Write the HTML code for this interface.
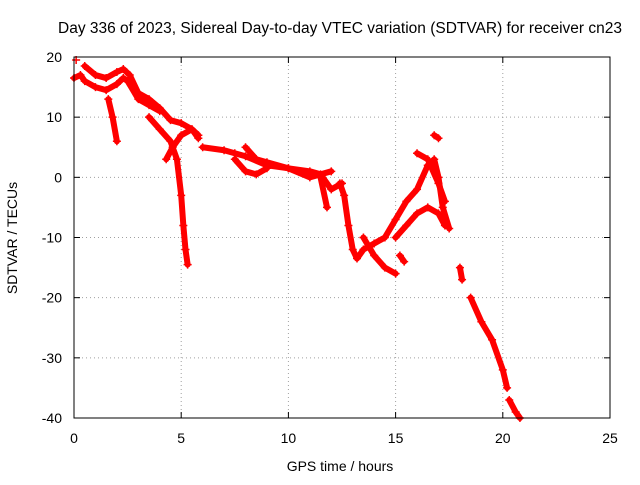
<!DOCTYPE html>
<html><head><meta charset="utf-8"><style>
body{margin:0;background:#fff}
svg text{font-family:"Liberation Sans",sans-serif;font-size:14px;fill:#000}
</style></head><body>
<svg id="chart" width="640" height="480" viewBox="0 0 640 480">
<rect width="640" height="480" fill="#fff"/>
<text x="340" y="33" text-anchor="middle" style="font-size:15.5px">Day 336 of 2023, Sidereal Day-to-day VTEC variation (SDTVAR) for receiver cn23</text>
<text x="340" y="471" text-anchor="middle">GPS time / hours</text>
<text transform="translate(17,238) rotate(-90)" text-anchor="middle">SDTVAR / TECUs</text>
<g id="grid"></g><g id="marks"></g><g id="axes"></g>
</svg>
<script>
const xTicks=[0,5,10,15,20,25];
const yTicks=[20,10,0,-10,-20,-30,-40];
const track1=[[0,16.5],[0.3,17],[0.5,16],[1,15],[1.5,14.5],[2,15.5],[2.3,16.5],[2.5,16],[3,13],[3.5,12],[4,11]];
const track2=[[0.5,18.5],[1,17],[1.5,16.5],[2,17.5],[2.3,18],[2.6,17],[3,14],[3.5,13],[4,11.5],[4.5,9.5],[5,9],[5.5,8],[5.8,6.5]];
const track3=[[1.6,13],[1.8,10],[2,6]];
const track4=[[3.5,10],[4,8],[4.5,6],[4.8,3],[5,-3],[5.1,-8],[5.2,-12],[5.3,-14.5]];
const track5=[[4.3,3],[4.6,5],[5,7],[5.5,8],[5.8,7]];
const track6=[[6,5],[7,4.5],[7.5,4],[8,3.5],[9,2],[10,1.5],[11,1],[11.5,0.5],[12,-2],[12.5,-1]];
const track7=[[8,5],[8.5,3],[9,2.5],[10,1.5],[11,0],[12,1]];
const track8=[[7.5,3],[8,1],[8.5,0.5],[9,1.5]];
const track9=[[11.5,0],[11.8,-5]];
const track10=[[12.4,-1],[12.6,-3],[12.8,-8],[13,-12],[13.2,-13.5],[13.5,-12],[14,-11],[14.5,-10],[15,-7],[15.5,-4],[16,-2],[16.5,2],[16.8,3],[17,0],[17.2,-5],[17.5,-8.5]];
const track11=[[13.5,-10],[14,-13],[14.5,-15],[15,-16]];
const track12=[[15,-10],[15.5,-8],[16,-6],[16.5,-5],[17,-6],[17.3,-8]];
const track13=[[15.2,-13],[15.4,-14]];
const track14=[[16,4],[16.5,3],[17,-1],[17.3,-4]];
const track15=[[16.8,7],[17,6.5]];
const track16=[[18,-15],[18.1,-17]];
const track17=[[18.5,-20],[19,-24],[19.5,-27],[20,-32],[20.2,-35]];
const track18=[[20.3,-37],[20.6,-39],[20.8,-40]];
const track19=[[0.1,19.5]];
const tracks=[track1,track2,track3,track4,track5,track6,track7,track8,track9,track10,track11,track12,track13,track14,track15,track16,track17,track18,track19];

const L=74,R=610,T=57,B=418;
const xs=v=>L+(v-0)/25*(R-L);
const ys=v=>B-(v+40)/60*(B-T);
const NS='http://www.w3.org/2000/svg';
function mk(tag,attrs,parent){const e=document.createElementNS(NS,tag);for(const k in attrs)e.setAttribute(k,attrs[k]);document.getElementById(parent).appendChild(e);return e;}
xTicks.forEach(t=>{
  const x=xs(t);
  if(t>0&&t<25){const g=mk('line',{x1:x,x2:x,y1:T,y2:B,stroke:'#a0a0a0','stroke-dasharray':'1,3'},'grid');
  
  }
  mk('line',{x1:x,x2:x,y1:B,y2:B-6,stroke:'#000'},'axes');
  mk('line',{x1:x,x2:x,y1:T,y2:T+6,stroke:'#000'},'axes');
  const tx=mk('text',{x:x,y:B+25,'text-anchor':'middle'},'axes');tx.textContent=t;
  
  
});
yTicks.forEach(t=>{
  const y=ys(t);
  if(t>-40&&t<20){const g=mk('line',{x1:L,x2:R,y1:y,y2:y,stroke:'#a0a0a0','stroke-dasharray':'1,3'},'grid');
  
  }
  mk('line',{x1:L,x2:L+6,y1:y,y2:y,stroke:'#000'},'axes');
  mk('line',{x1:R,x2:R-6,y1:y,y2:y,stroke:'#000'},'axes');
  const tx=mk('text',{x:L-12,y:y+5,'text-anchor':'end'},'axes');tx.textContent=t;
  
  
});
const fr=mk('rect',{x:L,y:T,width:R-L,height:B-T,fill:'none',stroke:'#000'},'axes');


tracks.forEach(tr=>{
  if(tr.length>1){
    const p=mk('polyline',{points:tr.map(d=>xs(d[0])+','+ys(d[1])).join(' '),fill:'none',stroke:'#f00','stroke-width':6,'stroke-linejoin':'round','stroke-linecap':'round'},'marks');
    
    
  }
  tr.forEach(d=>{
    const x=xs(d[0]),y=ys(d[1]);
    const m=mk('path',{d:`M${x-4},${y}h8M${x},${y-4}v8`,stroke:'#f00','stroke-width':1.5},'marks');
    
    
  });
});
</script>
</body></html>
